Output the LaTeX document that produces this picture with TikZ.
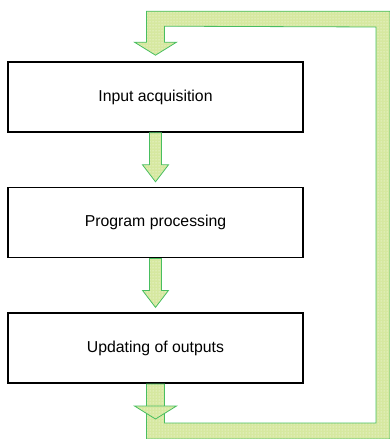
\documentclass[tikz,border=0pt]{standalone}
\usepackage{fontspec}
\setmainfont{Liberation Sans}
\usepackage{xcolor}
\usepackage{tikz}
\usetikzlibrary{positioning,calc,patterns}

\definecolor{bandfill}{RGB}{214,232,160}
\definecolor{bandedge}{RGB}{72,190,96}

\begin{document}
\begin{tikzpicture}[x=1pt,y=-1pt,
  node distance=54pt,
  stepbox/.style={draw,line width=1.6pt,minimum width=295pt,minimum height=70pt,
    inner sep=0pt,font=\fontsize{15.8}{19}\selectfont},
  band/.style={draw=bandedge,line width=.8pt,line join=miter,
    preaction={fill=bandfill},pattern=dots,pattern color=white}
]
\useasboundingbox (0,0) rectangle (390,439);
\node[stepbox] (inp) at (155.5,97) {Input acquisition};
\node[stepbox,below=of inp] (prog) {Program processing};
\node[stepbox,below=of prog] (upd) {Updating of outputs};
% corners of the return loop
\coordinate (outerse) at (390,439);
\coordinate (innerse) at (376,423);
\coordinate (innerne) at (376,27);
% arrows between the steps
\foreach \a/\b in {inp/prog,prog/upd}
  \draw[band] ($(\a.south)+(-6,0)$) -- ($(\b.north)+(-6,-22)$) -- ++(-7,0)
    -- ($(\b.north)+(0,-5)$) -- ($(\b.north)+(13,-22)$) -- ++(-7,0)
    -- ($(\a.south)+(6,0)$) -- cycle;
% loop back to the input
\draw[band] ($(upd.south)+(-9,0)$) |- (outerse) |- ($(inp.north)+(-9,-50)$)
  -- ($(inp.north)+(-9,-19)$) -- ++(-12,0) -- ($(inp.north)+(0,-6)$)
  -- ($(inp.north)+(21,-19)$) -- ++(-12,0) -- ($(inp.north)+(9,-35)$)
  -- (innerne) -- (innerse) -| ($(upd.south)+(9,0)$) -- cycle;
\draw[band] ($(upd.south)+(-21,22)$) -- ($(upd.south)+(21,22)$)
  -- ($(upd.south)+(0,35)$) -- cycle;
\end{tikzpicture}
\end{document}
